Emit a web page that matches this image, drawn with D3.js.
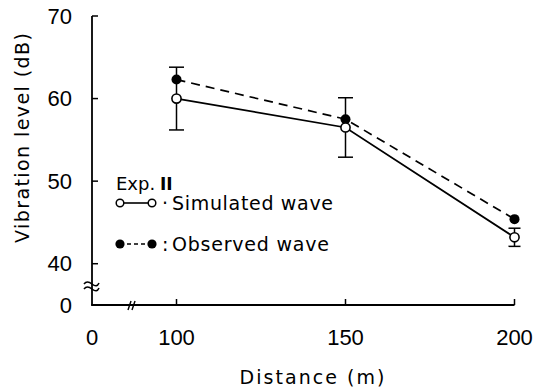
<!DOCTYPE html>
<html><head><meta charset="utf-8">
<script src="https://cdn.jsdelivr.net/npm/d3@7"></script>
<style>body{margin:0;background:#fff}svg{display:block}text{font-family:"DejaVu Sans",sans-serif;fill:#000}.tk{font-family:"Liberation Sans",Arial,sans-serif}</style>
</head><body><div id="c"></div>
<script>
const distances = [100, 150, 200];
const simulated = [60.0, 56.5, 43.2];
const simErr = [3.8, 3.6, 1.1];
const observed = [62.3, 57.5, 45.4];
const yTicks = [40, 50, 60, 70];
const xTicks = [100, 150, 200];
const xTickLabels = ["100", "150", "200"];

const W = 534, H = 392;
const svg = d3.select("#c").append("svg").attr("width", W).attr("height", H);
const x = d3.scaleLinear().domain([0, 100, 200]).range([92, 176.5, 514.5]);
const y = d3.scaleLinear().domain([35, 70]).range([305, 16]);
const x0 = x(0), y0 = y(35);

const g = svg.append("g").attr("stroke", "#000").attr("fill", "none");
g.append("line").attr("x1", x0).attr("x2", x0).attr("y1", y(70)).attr("y2", y0).attr("stroke-width", 1.8);
g.append("line").attr("x1", x0 - 0.9).attr("x2", x(200)).attr("y1", y0).attr("y2", y0).attr("stroke-width", 1.8);
yTicks.forEach(t => g.append("line").attr("x1", x0).attr("x2", x0 + 6).attr("y1", y(t)).attr("y2", y(t)).attr("stroke-width", 1.5));
xTicks.forEach(t => g.append("line").attr("x1", x(t)).attr("x2", x(t)).attr("y1", y0).attr("y2", y0 - 6).attr("stroke-width", 1.5));
[283, 288].forEach(yy => g.append("path").attr("d", `M${x0-8},${yy+1} q3,-4 8,0 t7,-1`).attr("stroke-width", 1.5));
const xb = 132;
[-2, 2].forEach(o => g.append("path").attr("d", `M${xb+o-2},${y0+5} l3,-9`).attr("stroke-width", 1.4));

const fs = 22;
yTicks.forEach(t => svg.append("text").attr("class", "tk").attr("x", 72).attr("y", y(t)).attr("dy", "0.35em").attr("text-anchor", "end").attr("font-size", fs).text(t));
svg.append("text").attr("class", "tk").attr("x", 72).attr("y", y0).attr("dy", "0.35em").attr("text-anchor", "end").attr("font-size", fs).text("0");
svg.append("text").attr("class", "tk").attr("x", x0).attr("y", 337).attr("dy", "0.35em").attr("text-anchor", "middle").attr("font-size", fs).text("0");
xTicks.forEach((t, i) => svg.append("text").attr("class", "tk").attr("x", x(t)).attr("y", 337).attr("dy", "0.35em").attr("text-anchor", "middle").attr("font-size", fs).text(xTickLabels[i]));

svg.append("text").attr("x", 312).attr("y", 377).attr("dy", "0.36em").attr("text-anchor", "middle").attr("font-size", 19).attr("textLength", 145).text("Distance (m)");
svg.append("text").attr("transform", "translate(22,138) rotate(-90)").attr("dy", "0.36em").attr("text-anchor", "middle").attr("font-size", 19).attr("textLength", 210).text("Vibration level (dB)");

distances.forEach((d, i) => {
  const cx = x(d), hw = i === 2 ? 6 : 7.5;
  g.append("line").attr("x1", cx).attr("x2", cx).attr("y1", y(simulated[i] + simErr[i])).attr("y2", y(simulated[i] - simErr[i])).attr("stroke-width", 1.5);
  [simulated[i] + simErr[i], simulated[i] - simErr[i]].forEach(v =>
    g.append("line").attr("x1", cx - hw).attr("x2", cx + hw).attr("y1", y(v)).attr("y2", y(v)).attr("stroke-width", 1.5));
});

const line = d3.line().x((d, i) => x(distances[i])).y(d => y(d));
g.append("path").attr("d", line(observed)).attr("stroke-width", 1.7).attr("stroke-dasharray", "9,6");
g.append("path").attr("d", line(simulated)).attr("stroke-width", 1.7);

distances.forEach((d, i) => svg.append("circle").attr("cx", x(d)).attr("cy", y(observed[i])).attr("r", 5).attr("fill", "#000"));
distances.forEach((d, i) => svg.append("circle").attr("cx", x(d)).attr("cy", y(simulated[i])).attr("r", 4.6).attr("fill", "#fff").attr("stroke", "#000").attr("stroke-width", 1.6));

svg.append("text").attr("x", 116).attr("y", 190).attr("font-size", 18).text("Exp.");
svg.append("text").attr("x", 160).attr("y", 190).attr("font-size", 17).attr("font-family", "DejaVu Serif").attr("font-weight", "bold").text("II");
g.append("line").attr("x1", 120).attr("x2", 152).attr("y1", 203).attr("y2", 203).attr("stroke-width", 1.6);
[120, 152].forEach(cx => svg.append("circle").attr("cx", cx).attr("cy", 203).attr("r", 3.8).attr("fill", "#fff").attr("stroke", "#000").attr("stroke-width", 1.5));
svg.append("text").attr("x", 162).attr("y", 203).attr("dy", "0.36em").attr("font-size", 19).text("·");
svg.append("text").attr("x", 172).attr("y", 203).attr("dy", "0.36em").attr("font-size", 19).attr("textLength", 161).text("Simulated wave");
g.append("line").attr("x1", 120).attr("x2", 152).attr("y1", 244).attr("y2", 244).attr("stroke-width", 1.6).attr("stroke-dasharray", "4,3");
[120, 152].forEach(cx => svg.append("circle").attr("cx", cx).attr("cy", 244).attr("r", 4.6).attr("fill", "#000"));
svg.append("text").attr("x", 162).attr("y", 244).attr("dy", "0.36em").attr("font-size", 19).text(":");
svg.append("text").attr("x", 172).attr("y", 244).attr("dy", "0.36em").attr("font-size", 19).attr("textLength", 157).text("Observed wave");
</script></body></html>
